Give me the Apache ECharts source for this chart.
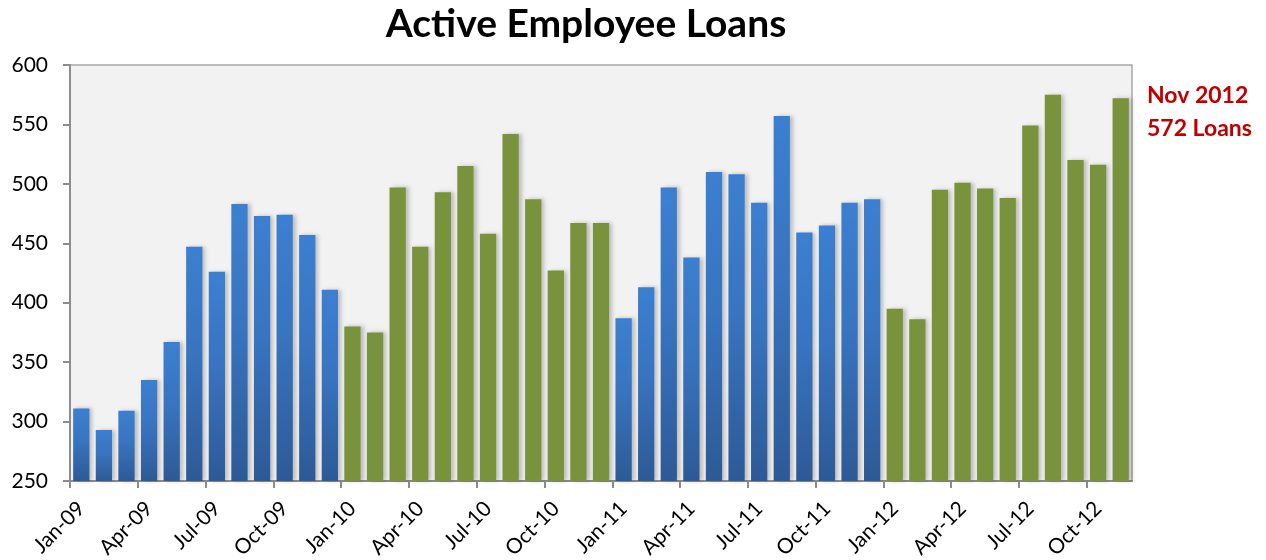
<!DOCTYPE html>
<html>
<head>
<meta charset="utf-8">
<script src="https://cdn.jsdelivr.net/npm/echarts@6/dist/echarts.min.js"></script>
<style>
  html, body { margin: 0; padding: 0; background: #fff; }
  #chart { width: 1266px; height: 560px; }
</style>
</head>
<body>
<div id="chart"></div>
<script>
// months Jan-09 .. Nov-12
const months = [
  'Jan-09', 'Feb-09', 'Mar-09', 'Apr-09', 'May-09', 'Jun-09', 'Jul-09', 'Aug-09', 'Sep-09', 'Oct-09', 'Nov-09', 'Dec-09',
  'Jan-10', 'Feb-10', 'Mar-10', 'Apr-10', 'May-10', 'Jun-10', 'Jul-10', 'Aug-10', 'Sep-10', 'Oct-10', 'Nov-10', 'Dec-10',
  'Jan-11', 'Feb-11', 'Mar-11', 'Apr-11', 'May-11', 'Jun-11', 'Jul-11', 'Aug-11', 'Sep-11', 'Oct-11', 'Nov-11', 'Dec-11',
  'Jan-12', 'Feb-12', 'Mar-12', 'Apr-12', 'May-12', 'Jun-12', 'Jul-12', 'Aug-12', 'Sep-12', 'Oct-12', 'Nov-12'
]
// active loans per month
const loans = [
  311, 293, 309, 335, 367, 447, 426, 483, 473, 474, 457, 411,
  380, 375, 497, 447, 493, 515, 458, 542, 487, 427, 467, 467,
  387, 413, 497, 438, 510, 508, 484, 557, 459, 465, 484, 487,
  395, 386, 495, 501, 496, 488, 549, 575, 520, 516, 572
]
// quarterly tick labels (at month boundaries)
const tickLabels = [
  'Jan-09', 'Apr-09', 'Jul-09', 'Oct-09', 'Jan-10', 'Apr-10', 'Jul-10', 'Oct-10',
  'Jan-11', 'Apr-11', 'Jul-11', 'Oct-11', 'Jan-12', 'Apr-12', 'Jul-12', 'Oct-12'
]
const yTicks = [250, 300, 350, 400, 450, 500, 550, 600]

const font = 'Lato, "Open Sans", sans-serif'

//年ごとの色（09,11 青グラデ / 10,12 緑）
const blueFill = new echarts.graphic.LinearGradient(0, 0, 0, 1, [
  { offset: 0, color: '#3c7fd0' },
  { offset: 0.45, color: '#3874c0' },
  { offset: 1, color: '#2d5a96' }
])
const greenFill = '#79933c'

const barData = loans.map((v, i) => {
  const yr = Math.floor(i / 12)
  return {
    value: v,
    itemStyle: { color: yr % 2 === 0 ? blueFill : greenFill }
  }
})

const chart = echarts.init(document.getElementById('chart'), null, { renderer: 'canvas' })

const option = {
  animation: false,
  textStyle: { fontFamily: font },
  title: [
    {
      text: 'Active Employee Loans',
      left: 586,
      textAlign: 'center',
      top: 5,
      padding: 0,
      textStyle: { fontSize: 39, fontWeight: 'bold', color: '#000', fontFamily: font }
    },
    {
      text: 'Nov 2012\n572 Loans',
      left: 1147,
      top: 79,
      padding: 0,
      textStyle: { fontSize: 23, fontWeight: 'bold', color: '#c00000', lineHeight: 33, fontFamily: font }
    }
  ],
  grid: {
    left: 70,
    right: 134,
    top: 65,
    bottom: 79,
    outerBoundsMode: 'none',
    containLabel: false,
    show: true,
    backgroundColor: '#f2f2f2',
    borderColor: '#a8a8a8',
    borderWidth: 1.5
  },
  xAxis: [
    {
      type: 'category',
      data: months,
      axisLine: { show: false },
      axisTick: { show: false },
      axisLabel: { show: false }
    },
    {
      type: 'value',
      position: 'bottom',
      min: 0,
      max: months.length,
      splitLine: { show: false },
      axisLine: { show: true, lineStyle: { color: '#8c8c8c', width: 2 } },
      axisTick: {
        show: true,
        length: 7,
        customValues: tickLabels.map((_, i) => i * 3),
        lineStyle: { color: '#8c8c8c', width: 2 }
      },
      axisLabel: {
        rotate: 45,
        margin: 24,
        fontSize: 21,
        color: '#000',
        fontFamily: font,
        customValues: tickLabels.map((_, i) => i * 3 + 0.5),
        formatter: (v) => tickLabels[Math.floor(v / 3)]
      }
    }
  ],
  yAxis: {
    type: 'value',
    min: 250,
    max: 600,
    interval: 50,
    splitLine: { show: false },
    axisLine: { show: true, lineStyle: { color: '#8c8c8c', width: 2 } },
    axisTick: { show: true, length: 7, lineStyle: { color: '#8c8c8c', width: 2 } },
    axisLabel: {
      fontSize: 21,
      color: '#000',
      margin: 22,
      fontFamily: font,
      customValues: yTicks
    }
  },
  series: [
    {
      name: 'Loans',
      type: 'bar',
      xAxisIndex: 0,
      data: barData,
      barCategoryGap: '28%',
      itemStyle: {
        shadowColor: 'rgba(0,0,0,0.22)',
        shadowBlur: 4,
        shadowOffsetX: 3,
        shadowOffsetY: 0
      }
    }
  ]
}

chart.setOption(option)
</script>
</body>
</html>
